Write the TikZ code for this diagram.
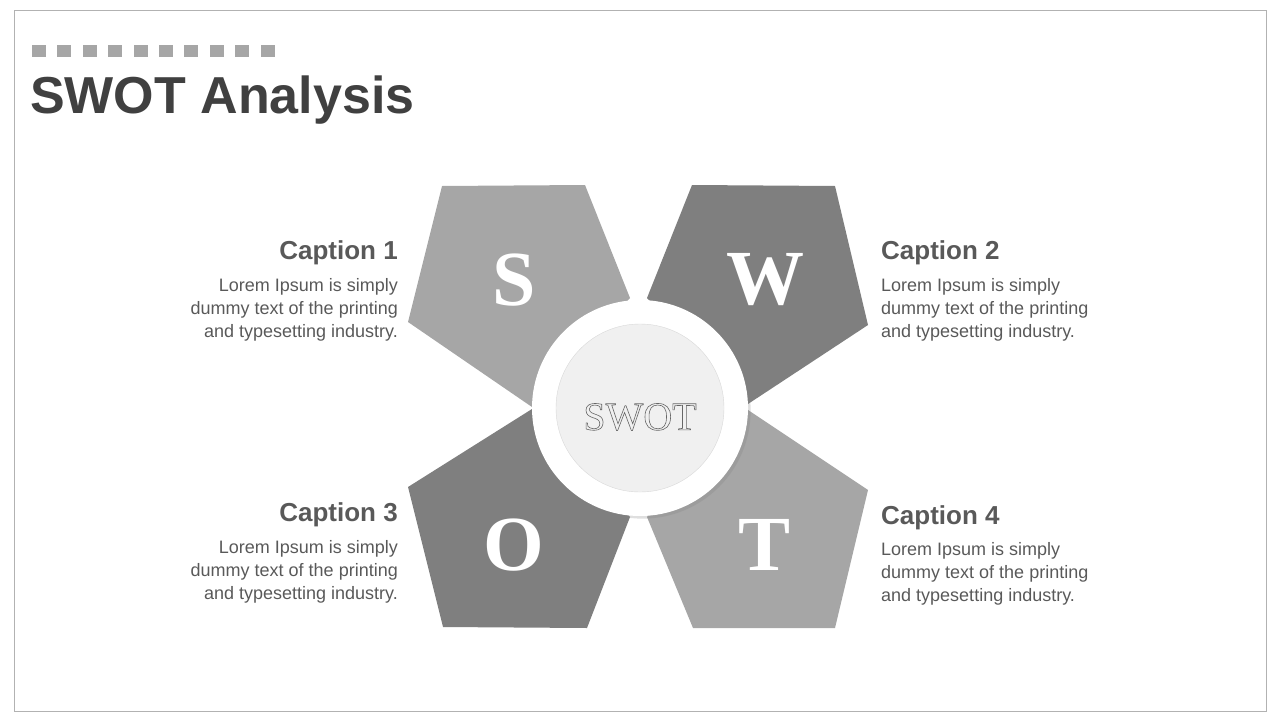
\documentclass[tikz,border=0pt]{standalone}
\usepackage{fontspec}
\setmainfont{Liberation Sans}
\newfontfamily\serifletters{Liberation Serif}
\usetikzlibrary{shadows}
\definecolor{lightpetal}{HTML}{A6A6A6}
\definecolor{darkpetal}{HTML}{7F7F7F}
\definecolor{titlegray}{HTML}{404040}
\definecolor{textgray}{HTML}{595959}
\begin{document}
\begin{tikzpicture}[x=1pt,y=-1pt]
\tikzset{
  caption/.style={font=\fontsize{26}{30}\selectfont\bfseries, text=textgray, inner sep=0pt},
  body/.style={font=\fontsize{18}{23}\selectfont, text=textgray, inner sep=0pt},
  letter/.style={font=\serifletters\fontsize{78}{78}\selectfont\bfseries, text=white}
}
\useasboundingbox (0,0) rectangle (1280,720);
\draw[gray!60] (14,10) rectangle (1266,711);

% Squares above title
\foreach \i in {0,...,9}
  \fill[lightpetal] (32+\i*25.4,45) rectangle ++(14,12);
\node[anchor=west, font=\fontsize{52}{60}\selectfont\bfseries, text=titlegray, inner sep=0pt] (title) at (30,100) {SWOT Analysis};

% Petals
\fill[lightpetal] (442,186) -- (585,185) -- (630,298) -- (532,407) -- (408,322) -- cycle;
\fill[darkpetal] (692,185) -- (835,186) -- (868,325) -- (748,404) -- (647,298) -- cycle;
\fill[darkpetal] (443,627) -- (587,628) -- (630,517) -- (532,409) -- (408,487) -- cycle;
\fill[lightpetal] (693,628) -- (835,628) -- (868,490) -- (748,410) -- (647,517) -- cycle;

% Centre circles
\fill[white, drop shadow={opacity=0.25}] (640,408) circle (108);
\fill[gray!12, draw=gray!30] (640,408) circle (84);
\node[font=\serifletters\fontsize{40}{40}\selectfont, text=white] (swot) at (640,417)
  {\special{pdf:code q 1 Tr 0.6 w 0.4 G}SWOT\special{pdf:code Q}};

% Letters
\node[letter] (S) at (514,280) {S};
\node[letter] (W) at (765,280) {W};
\node[letter] (O) at (514,545) {O};
\node[letter] (T) at (765,545) {T};

% Captions
\node[caption, anchor=east] (cap1) at (398,253) {Caption 1};
\node[body, anchor=north east, align=right] (txt1) at (398,278) {Lorem Ipsum is simply\\dummy text of the printing\\and typesetting industry.};
\node[caption, anchor=west] (cap2) at (881,253) {Caption 2};
\node[body, anchor=north west, align=left] (txt2) at (881,278) {Lorem Ipsum is simply\\dummy text of the printing\\and typesetting industry.};
\node[caption, anchor=east] (cap3) at (398,515) {Caption 3};
\node[body, anchor=north east, align=right] (txt3) at (398,540) {Lorem Ipsum is simply\\dummy text of the printing\\and typesetting industry.};
\node[caption, anchor=west] (cap4) at (881,518) {Caption 4};
\node[body, anchor=north west, align=left] (txt4) at (881,542) {Lorem Ipsum is simply\\dummy text of the printing\\and typesetting industry.};
\end{tikzpicture}
\end{document}
